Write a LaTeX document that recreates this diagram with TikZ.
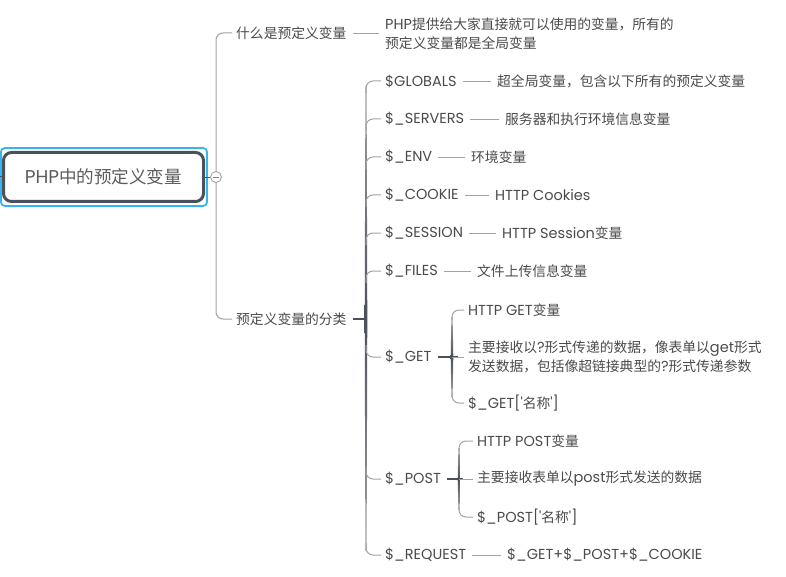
\documentclass[tikz,border=0pt]{standalone}
\usepackage{fontspec}
\setmainfont{Poppins}
\newfontfamily\cjk{Noto Sans CJK SC}[Scale=0.95]
\newcommand\zh[1]{{\cjk #1}}
\newcommand\q{\textquotesingle}
\definecolor{txt}{HTML}{4A4A4A}
\definecolor{dk}{HTML}{4B5059}
\definecolor{brgray}{HTML}{A3A3A3}
\definecolor{sel}{HTML}{33B5F0}
\tikzset{
  t/.style={anchor=west, inner sep=0pt, text=txt, font=\fontsize{14.5}{19}\selectfont, align=left},
  br/.style={draw=brgray, line width=1pt, rounded corners=7pt},
  dashc/.style={draw=brgray, line width=0.8pt, shorten <=6pt, shorten >=6pt},
  junc/.style={draw=dk, line width=2.2pt},
}
\newcommand\trunk[4]{%
  \shade[top color=brgray, bottom color=brgray, middle color=dk]
    ({#1-0.6},{#2}) -- ({#1+0.6},{#2}) -- ({#1+1.3},{#3}) -- ({#1+0.6},{#4})
    -- ({#1-0.6},{#4}) -- ({#1-1.3},{#3}) -- cycle;}
\begin{document}
\begin{tikzpicture}[x=1pt,y=-1pt]
\useasboundingbox (0,0) rectangle (786,577);
% root
\draw[sel, line width=1.8pt, rounded corners=4pt] (0.9,148) rectangle (207,206);
\node[draw=dk, line width=3pt, rounded corners=8pt, minimum width=200pt, minimum height=49pt,
      inner sep=0pt, text=txt!90, font=\fontsize{18.5}{21}\selectfont] (root) at (103.5,177) {PHP\zh{中的预定义变量}};
\draw[dk, line width=1pt] (root.west) -- +(-3,0);
\node[circle, draw=brgray, fill=white, line width=0.9pt, minimum size=11pt, inner sep=0pt] (col) at (216,177) {};
\draw[dk, line width=0.9pt] (root.east) -- (col.west);
\draw[brgray!80!black, line width=0.9pt] ([xshift=2.5pt]col.west) -- ([xshift=-2.5pt]col.east);
% level 1
\node[t] (q1) at (236,33) {\zh{什么是预定义变量}};
\node[t] (d1) at (385,34) {PHP\zh{提供给大家直接就可以使用的变量，所有的}\\\zh{预定义变量都是全局变量}};
\node[t] (q2) at (236,319) {\zh{预定义变量的分类}};
\draw[br] (col.north) |- ([xshift=-4pt]q1.west);
\draw[br] (col.south) |- ([xshift=-4pt]q2.west);
\draw[dashc] (q1.east) -- (q1.east -| d1.west);
% level 2
\coordinate (j2) at (366,319);
\trunk{366}{86}{319}{551}
\draw[junc] ([xshift=6pt]q2.east) -- (j2);
\node[t] (c1) at (385,81) {\$GLOBALS};
\node[t] (c2) at (385,119) {\$\_SERVERS};
\node[t] (c3) at (385,157) {\$\_ENV};
\node[t] (c4) at (385,195) {\$\_COOKIE};
\node[t] (c5) at (385,233) {\$\_SESSION};
\node[t] (c6) at (385,271) {\$\_FILES};
\node[t] (c7) at (385,357) {\$\_GET};
\node[t] (c8) at (385,479) {\$\_POST};
\node[t] (c9) at (385,555) {\$\_REQUEST};
\foreach \c in {c1,c2,c3,c4,c5,c6}
  \draw[br] ([yshift=-12pt]j2 |- \c.west) |- ([xshift=-4pt]\c.west);
\foreach \c in {c7,c8,c9}
  \draw[br] ([yshift=12pt]j2 |- \c.west) |- ([xshift=-4pt]\c.west);
\node[t] (e1) at (497,81) {\zh{超全局变量，包含以下所有的预定义变量}};
\node[t] (e2) at (505,119) {\zh{服务器和执行环境信息变量}};
\node[t] (e3) at (471,157) {\zh{环境变量}};
\node[t] (e4) at (495,195) {HTTP Cookies};
\node[t] (e5) at (502,233) {HTTP Session\zh{变量}};
\node[t] (e6) at (477,271) {\zh{文件上传信息变量}};
\node[t] (e9) at (507,555) {\$\_GET+\$\_POST+\$\_COOKIE};
\foreach \a/\b in {c1/e1,c2/e2,c3/e3,c4/e4,c5/e5,c6/e6,c9/e9}
  \draw[dashc] (\a.east) -- (\b.west);
% GET
\coordinate (jg) at (452,357);
\trunk{452}{317}{357}{397}
\draw[junc] ([xshift=6pt]c7.east) -- ([xshift=6pt]jg);
\node[t] (g1) at (468,310) {HTTP GET\zh{变量}};
\node[t] (g2) at (468,357) {\zh{主要接收以}?\zh{形式传递的数据，像表单以}get\zh{形式}\\\zh{发送数据，包括像超链接典型的}?\zh{形式传递参数}};
\node[t] (g3) at (468,403) {\$\_GET[\q\zh{名称}\q]};
\draw[br] ([yshift=-10pt]jg |- g1.west) |- ([xshift=-4pt]g1.west);
\draw[br] (jg) -- ([xshift=-4pt]g2.west);
\draw[br] ([yshift=10pt]jg |- g3.west) |- ([xshift=-4pt]g3.west);
% POST
\coordinate (jp) at (459,479);
\trunk{459}{448}{479}{510}
\draw[junc] ([xshift=6pt]c8.east) -- ([xshift=4pt]jp);
\node[t] (p1) at (477,441) {HTTP POST\zh{变量}};
\node[t] (p2) at (477,479) {\zh{主要接收表单以}post\zh{形式发送的数据}};
\node[t] (p3) at (477,517) {\$\_POST[\q\zh{名称}\q]};
\draw[br] ([yshift=-10pt]jp |- p1.west) |- ([xshift=-4pt]p1.west);
\draw[br] (jp) -- ([xshift=-4pt]p2.west);
\draw[br] ([yshift=10pt]jp |- p3.west) |- ([xshift=-4pt]p3.west);
\end{tikzpicture}
\end{document}
